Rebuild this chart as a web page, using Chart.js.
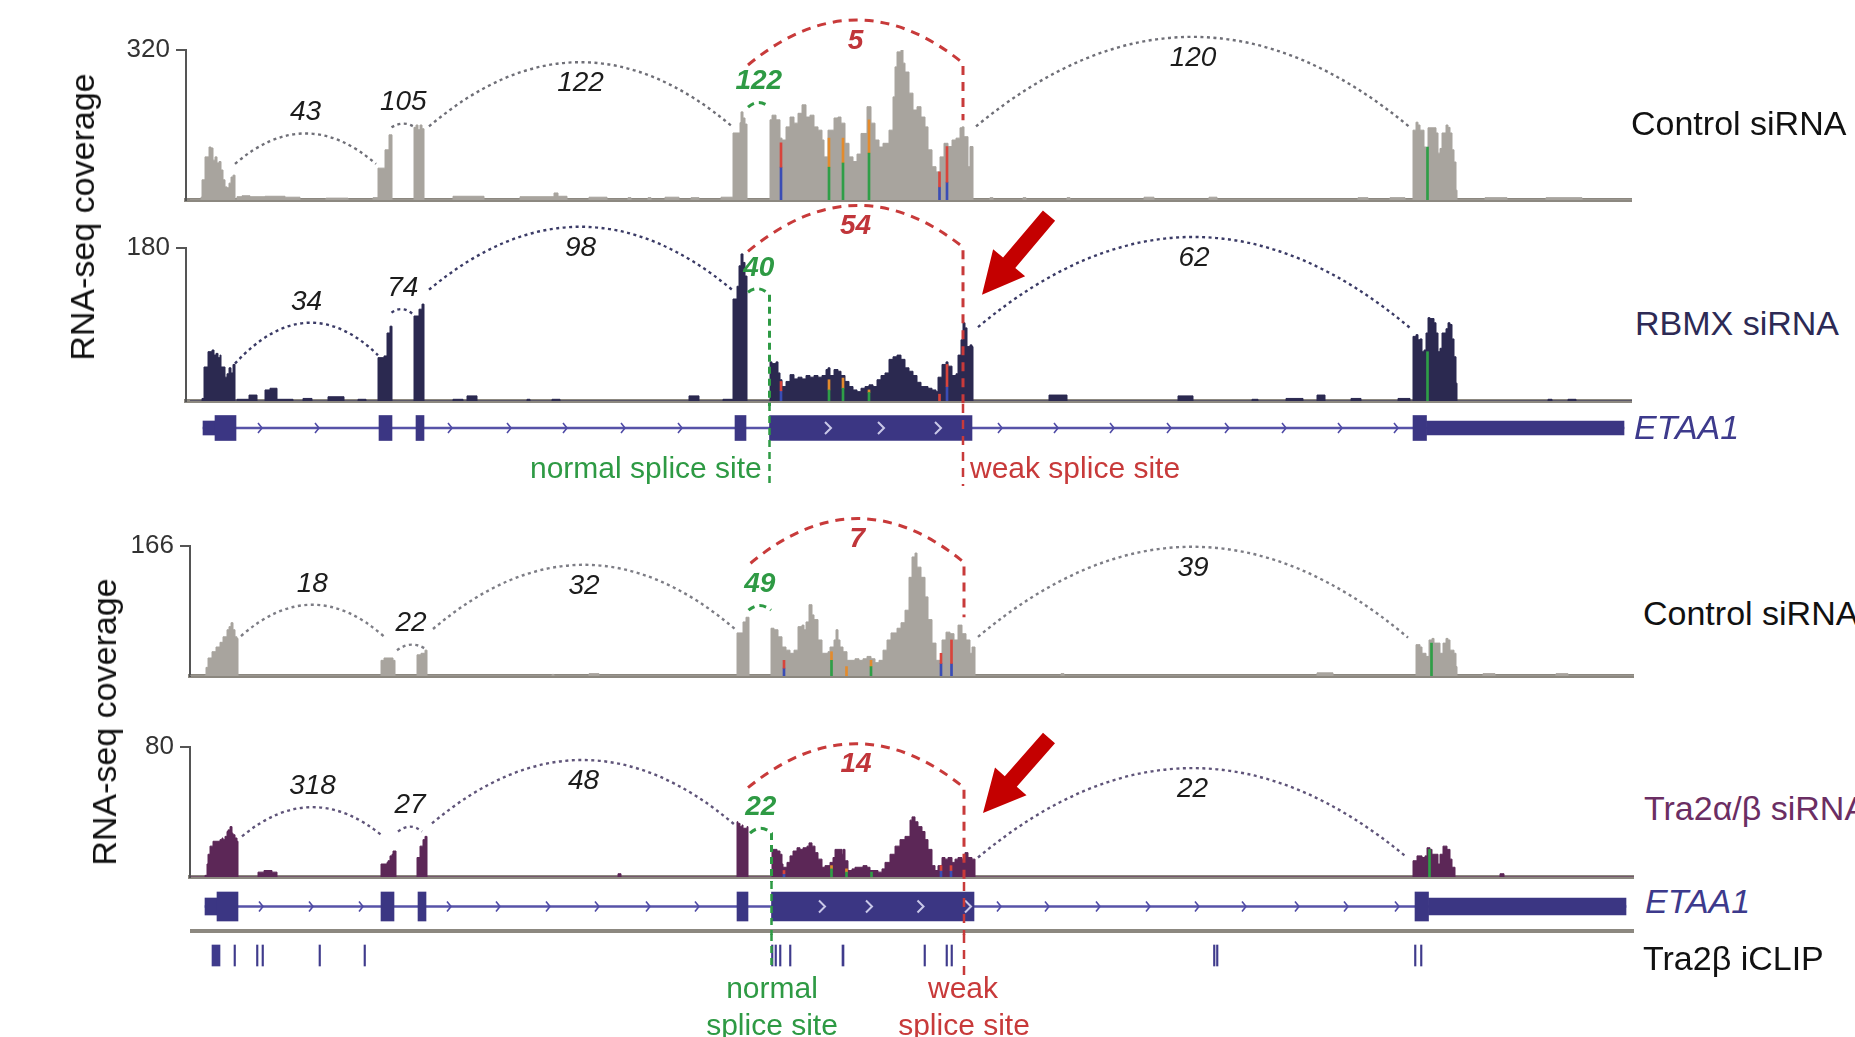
<!DOCTYPE html>
<html><head><meta charset="utf-8">
<script src="https://cdn.jsdelivr.net/npm/chart.js@4.4.1/dist/chart.umd.min.js"></script>
<style>
html,body{margin:0;padding:0;background:#fff;}
body{width:1855px;height:1037px;overflow:hidden;position:relative;font-family:"Liberation Sans",Arial,Helvetica,sans-serif;}
canvas{position:absolute;}
.t{position:absolute;white-space:nowrap;line-height:1;}
.rot{transform:translate(-50%,-50%) rotate(-90deg);}
.ctr{transform:translateX(-50%);}
</style></head><body>
<script>
// ---------------- DATA (genomic position units along ETAA1 locus) ----------------
const POS_MAX = 1442;
const yMaxTicks = [320, 180, 166, 80];
const trackNames = ['Control siRNA', 'RBMX siRNA', 'Control siRNA', 'Tra2α/β siRNA'];

const covCtrlA = [[0,0],[11,6],[12,43],[15,92],[19,113],[21,111],[23,85],[25,92],[27,79],[29,82],[31,64],[33,43],[35,28],[37,26],[39,36],[41,49],[43,53],[45,0],
[47,7],[52,9],[60,7],[75,8],[95,6],[110,0],[136,4],[158,0],
[183,5],[188,68],[195,107],[199,139],[202,0],
[224,155],[226,160],[228,150],[230,160],[232,152],[234,0],
[263,8],[294,0],[330,7],[364,15],[368,8],[377,0],[399,6],[417,0],
[438,5],[441,0],[458,5],[461,0],[475,6],[489,0],[501,5],[509,0],[531,6],
[543,143],[550,165],[551,188],[553,175],[555,162],[557,0],
[580,171],[582,181],[586,171],[590,132],[592,128],[596,156],[600,177],[604,164],[608,185],[612,203],[616,177],[620,181],[624,156],[628,149],[632,128],[634,92],[638,149],[644,175],[648,177],[651,164],[655,121],[659,92],[663,82],[667,98],[671,142],[677,199],[681,164],[685,128],[689,113],[693,121],[699,149],[703,220],[705,284],[707,316],[711,320],[713,292],[715,273],[719,228],[723,192],[727,199],[731,177],[735,156],[738,107],[742,71],[746,60],[750,92],[754,121],[758,114],[762,128],[766,132],[770,154],[772,156],[774,135],[778,71],[780,114],[783,0],
[800,5],[803,0],[833,5],[836,0],[877,5],[880,0],[954,6],[964,0],[1019,6],[1027,0],[1168,5],[1178,0],[1200,5],[1215,0],
[1223,149],[1226,166],[1228,160],[1230,149],[1234,113],[1236,107],[1238,154],[1244,154],[1246,143],[1248,100],[1250,110],[1252,143],[1256,160],[1258,155],[1260,143],[1262,107],[1264,81],[1266,21],[1267,0],
[1295,5],[1317,0],[1356,5],[1392,0],[1442,0]];

const covRbmx = [[0,0],[12,3],[14,40],[18,58],[22,60],[24,54],[26,56],[28,51],[30,54],[31,40],[33,40],[35,28],[37,32],[39,39],[41,33],[43,43],[45,0],
[47,2],[59,7],[67,0],[75,13],[80,15],[87,2],[103,0],[113,3],[122,0],[138,5],[154,0],[168,2],[176,0],
[188,51],[194,53],[197,80],[200,88],[202,0],
[224,100],[229,108],[232,114],[234,0],
[263,2],[273,0],[277,6],[287,0],[337,2],[340,0],[362,2],[370,0],[499,6],[509,0],[533,2],
[543,120],[547,135],[549,159],[551,173],[553,163],[555,147],[557,0],
[580,46],[582,44],[586,46],[588,33],[590,25],[592,17],[596,23],[600,31],[604,26],[608,28],[612,26],[616,30],[620,28],[624,30],[628,28],[632,30],[636,37],[638,39],[640,30],[644,37],[648,35],[651,30],[655,23],[659,17],[663,13],[667,11],[671,15],[675,17],[679,19],[683,17],[687,25],[691,30],[695,33],[699,49],[703,52],[707,54],[711,49],[715,39],[719,35],[723,30],[727,22],[731,17],[738,15],[742,13],[746,11],[748,28],[752,43],[756,46],[758,41],[762,30],[766,32],[768,54],[771,72],[773,92],[775,86],[777,64],[780,66],[782,64],[783,0],
[859,7],[877,0],[988,6],[1003,0],[1062,2],[1068,0],[1096,3],[1113,0],[1127,7],[1135,0],[1161,3],[1171,0],[1208,3],[1220,0],
[1223,76],[1226,78],[1228,72],[1230,73],[1232,58],[1234,60],[1236,80],[1238,98],[1240,97],[1244,92],[1246,80],[1248,58],[1250,62],[1252,80],[1256,85],[1258,92],[1260,90],[1262,73],[1264,52],[1266,21],[1267,0],
[1358,2],[1362,0],[1378,2],[1386,0],[1442,0]];

const covCtrlB = [[-2,0],[13,1],[14,11],[16,23],[20,31],[24,37],[28,43],[31,50],[35,59],[37,63],[39,68],[41,59],[43,50],[45,48],[46,0],
[189,20],[192,23],[198,23],[201,20],[203,0],
[225,27],[229,29],[233,33],[235,0],
[360,2],[362,0],[397,3],[407,0],
[545,55],[551,69],[554,75],[557,0],
[579,61],[582,59],[586,50],[590,37],[594,33],[598,29],[602,33],[606,63],[610,65],[612,59],[614,69],[617,91],[620,78],[622,72],[626,46],[630,29],[634,29],[636,31],[638,37],[642,46],[644,59],[646,46],[648,37],[651,31],[655,20],[659,20],[663,22],[667,20],[671,22],[675,25],[679,22],[683,17],[687,20],[691,33],[695,46],[699,55],[705,61],[709,68],[713,84],[717,126],[720,152],[723,157],[725,139],[729,126],[733,101],[736,72],[740,42],[744,20],[748,12],[750,46],[754,56],[758,54],[762,46],[766,65],[770,54],[774,46],[778,29],[780,37],[783,0],
[869,3],[872,0],[1125,4],[1141,0],
[1224,40],[1228,37],[1230,29],[1234,25],[1237,46],[1240,48],[1242,42],[1246,42],[1248,29],[1251,42],[1254,48],[1256,46],[1258,33],[1262,29],[1264,12],[1265,0],
[1291,3],[1303,0],[1364,3],[1376,0],[1442,0]];

const covTra2 = [[-2,0],[13,1],[15,8],[16,14],[18,19],[21,22],[28,23],[30,24],[31,23],[33,25],[35,28],[36,29],[38,31],[40,27],[41,26],[43,24],[45,22],[46,0],
[66,3],[72,4],[80,3],[85,0],
[189,8],[195,9],[196,10],[198,13],[200,14],[201,16],[204,0],
[225,12],[228,19],[231,23],[233,25],[235,0],
[426,2],[429,0],
[545,34],[546,33],[548,31],[550,32],[551,30],[555,31],[556,0],
[580,17],[585,16],[588,14],[590,8],[591,6],[595,9],[598,13],[601,16],[605,18],[608,17],[611,18],[615,19],[617,21],[620,19],[623,15],[626,11],[630,6],[633,7],[638,9],[641,12],[643,17],[646,17],[650,14],[651,17],[653,10],[656,4],[660,5],[663,6],[668,6],[671,7],[675,6],[678,4],[681,4],[686,3],[690,5],[693,9],[698,14],[703,19],[708,23],[713,25],[718,35],[720,37],[723,34],[726,31],[730,28],[733,23],[736,17],[740,7],[743,4],[746,7],[750,12],[753,11],[756,12],[760,9],[763,11],[766,12],[770,11],[773,15],[776,12],[780,11],[783,0],
[1221,10],[1225,13],[1230,12],[1233,13],[1235,18],[1238,17],[1240,14],[1246,8],[1248,14],[1251,19],[1255,17],[1258,11],[1260,6],[1263,0],
[1308,2],[1312,0],[1442,0]];

// mismatch allele bars: [position, from, to]
const mmCtrlA = {red:[[591,70,122],[749.5,28,60],[757,38,114]], blue:[[591,0,70],[749.5,0,28],[757,0,38]],
  green:[[639,0,70],[653,0,79],[679,0,100],[1237.5,0,113]], orange:[[639,70,132],[653,79,132],[679,100,171]]};
const mmRbmx = {red:[[591,12,23],[749.5,0,8],[757,17,43]], blue:[[591,0,12],[757,0,17]],
  green:[[639,0,13],[653,0,15],[679,0,10],[1237.5,0,58]], orange:[[639,13,25],[653,15,27],[679,10,13]]};
const mmCtrlB = {red:[[592,10,20],[749,16,29],[759.5,16,46]], blue:[[592,0,10],[749,0,16],[759.5,0,16]],
  green:[[639.5,0,20],[679,0,12],[1239.5,0,42]], orange:[[639.5,20,31],[654.5,0,12],[679,12,20]]};
const mmTra2 = {red:[[592,2,4],[749,4,7],[759,4,7]], blue:[[592,0,2],[749,0,4],[759,0,4]],
  green:[[639.5,0,5],[654.5,0,3],[679.5,0,3],[1237.5,0,17]], orange:[[639.5,5,7],[654.5,3,5]]};

// splice junctions: from, to, coverage at ends, arc apex, read count, kind
const jxCtrlA = [
  {from:45, to:186, y0:77, y1:77, apex:142, n:'43', kind:'plain', lab:'above'},
  {from:201.5, to:225, y0:155, y1:155, apex:163, n:'105', kind:'plain', lab:'above'},
  {from:239, to:542, y0:157, y1:157, apex:294, n:'122', kind:'plain', lab:'below'},
  {from:558, to:579.5, y0:198, y1:198, apex:208, n:'122', kind:'normal', lab:'above'},
  {from:558, to:773, y0:288, y1:292, apex:384, n:'5', kind:'weak', lab:'below', drop:170},
  {from:786, to:1220, y0:157, y1:155, apex:348, n:'120', kind:'plain', lab:'below'}];
const jxRbmx = [
  {from:45, to:188, y0:44, y1:54, apex:92, n:'34', kind:'plain', lab:'above'},
  {from:201.5, to:224, y0:104, y1:101, apex:108, n:'74', kind:'plain', lab:'above'},
  {from:239, to:542, y0:131, y1:131, apex:205, n:'98', kind:'plain', lab:'below'},
  {from:558, to:579.5, y0:128, y1:125, apex:132, n:'40', kind:'normal', lab:'above', drop:'through'},
  {from:558, to:773, y0:176, y1:181, apex:230, n:'54', kind:'weak', lab:'below', drop:'through'},
  {from:788, to:1220, y0:87, y1:86, apex:193, n:'62', kind:'plain', lab:'below'}];
const jxCtrlB = [
  {from:49, to:191.5, y0:51, y1:51, apex:91, n:'18', kind:'plain', lab:'above'},
  {from:205, to:233, y0:33, y1:35, apex:40, n:'22', kind:'plain', lab:'above'},
  {from:241, to:543, y0:60, y1:60, apex:142, n:'32', kind:'plain', lab:'below'},
  {from:556.5, to:579, y0:84, y1:84, apex:90, n:'49', kind:'normal', lab:'above'},
  {from:558.5, to:772, y0:144, y1:145, apex:201, n:'7', kind:'weak', lab:'below', drop:75},
  {from:786, to:1216, y0:50, y1:49, apex:165, n:'39', kind:'plain', lab:'below'}];
const jxTra2 = [
  {from:50, to:191, y0:25, y1:25, apex:43, n:'318', kind:'plain', lab:'above'},
  {from:206, to:230, y0:28, y1:28, apex:31, n:'27', kind:'plain', lab:'above'},
  {from:240, to:543, y0:33, y1:32, apex:72, n:'48', kind:'plain', lab:'below'},
  {from:558, to:579.5, y0:27, y1:27, apex:30, n:'22', kind:'normal', lab:'above', drop:'through'},
  {from:556, to:772, y0:55, y1:55, apex:82, n:'14', kind:'weak', lab:'below', drop:'through'},
  {from:786, to:1215, y0:12, y1:12, apex:67, n:'22', kind:'plain', lab:'below'}];

// red arrows pointing at the weak splice site: [position, coverage]
const arrowRbmx = {tail:[859,218], tip:[792,125]};
const arrowTra2 = {tail:[857,85.5], tip:[791,39.4]};

// ETAA1 gene model
const geneExons = [[25,46],[189,202],[226,234],[545,556],[579.5,782],[1223,1236.5]];
const geneUTR = [[13,25],[1236.5,1434]];
const geneSpan = [13,1434];
const intronArrowsA = [70,127,260,319,375,433,490,810,866,922,979,1037,1094,1150,1206];
const intronArrowsB = [69,119,169,257,306,356,405,456,505,807,855,906,956,1005,1052,1105,1154,1205];
const exonArrowsA = [638,691,748];
const exonArrowsB = [630,677,728.5,776];
const spliceSitesA = {normal:579.5, weak:773};
const spliceSitesB = {normal:579.5, weak:772};

// Tra2beta iCLIP tags
const iclipTags = [[20,28],[42,43.5],[64.5,66],[70,71.5],[127,128.5],[172,173.5],[579.5,581],[583,584.5],[587.5,589],[597.5,599],[650,652],[732,733.5],[754,755.5],[759,760.5],[1021.5,1023],[1024.5,1026],[1222.5,1224],[1228.5,1230]];

// ---------------- RENDERING ----------------
const FONT = '"Liberation Sans", Arial, Helvetica, sans-serif';
Chart.defaults.font.family = FONT;
const GREEN = '#2e9a44', RED = '#c83a3a', GENE = '#3b3683';

function mkCanvas(left, top, w, h) {
  const cv = document.createElement('canvas');
  cv.width = w; cv.height = h;
  cv.style.left = left + 'px'; cv.style.top = top + 'px';
  cv.style.width = w + 'px'; cv.style.height = h + 'px';
  document.body.appendChild(cv);
  return cv;
}

function sashimi(cfg) {
  return {
    id: 'sashimi',
    afterDatasetsDraw(chart) {
      const ctx = chart.ctx, xs = chart.scales.x, ys = chart.scales.y;
      ctx.save();
      for (const j of cfg.junctions) {
        const x0 = xs.getPixelForValue(j.from), x2 = xs.getPixelForValue(j.to);
        const y0 = ys.getPixelForValue(j.y0), y2 = ys.getPixelForValue(j.y1);
        const ya = ys.getPixelForValue(j.apex);
        const cx = (x0 + x2) / 2, cy = 2 * ya - (y0 + y2) / 2;
        let col = cfg.arcColor, lw = 2.4, dash = [3, 3.5], txt = '#1c1c1c', font = 'italic 28px ' + FONT;
        if (j.kind === 'weak') { col = RED; lw = 3; dash = [9, 7]; txt = '#c0353a'; font = 'italic bold 28px ' + FONT; }
        if (j.kind === 'normal') { col = GREEN; lw = 3; dash = [7, 5]; txt = GREEN; font = 'italic bold 28px ' + FONT; }
        ctx.strokeStyle = col; ctx.lineWidth = lw; ctx.setLineDash(dash);
        ctx.beginPath(); ctx.moveTo(x0, y0); ctx.quadraticCurveTo(cx, cy, x2, y2);
        if (j.drop !== undefined) {
          const yd = j.drop === 'through' ? chart.height : ys.getPixelForValue(j.drop);
          ctx.lineTo(x2, yd);
        }
        ctx.stroke();
        ctx.setLineDash([]);
        ctx.fillStyle = txt; ctx.font = font; ctx.textAlign = 'center'; ctx.textBaseline = 'middle';
        ctx.fillText(j.n, cx, j.lab === 'above' ? ya - 21 : ya + 21);
      }
      if (cfg.arrow) {
        const tx = xs.getPixelForValue(cfg.arrow.tail[0]), ty = ys.getPixelForValue(cfg.arrow.tail[1]);
        const px = xs.getPixelForValue(cfg.arrow.tip[0]), py = ys.getPixelForValue(cfg.arrow.tip[1]);
        const L = Math.hypot(tx - px, ty - py), ux = (tx - px) / L, uy = (ty - py) / L, nx = -uy, ny = ux;
        const hb = 42, sw = 8, hw = 21;
        const bx = px + ux * hb, by = py + uy * hb;
        ctx.fillStyle = '#c40000';
        ctx.beginPath();
        ctx.moveTo(tx + nx * sw, ty + ny * sw);
        ctx.lineTo(bx + nx * sw, by + ny * sw);
        ctx.lineTo(bx + nx * hw, by + ny * hw);
        ctx.lineTo(px, py);
        ctx.lineTo(bx - nx * hw, by - ny * hw);
        ctx.lineTo(bx - nx * sw, by - ny * sw);
        ctx.lineTo(tx - nx * sw, ty - ny * sw);
        ctx.closePath(); ctx.fill();
      }
      ctx.restore();
    }
  };
}

function makeCoverage(cfg) {
  const cv = mkCanvas(cfg.left, cfg.top, cfg.w, cfg.h);
  const mmColors = {red:'#d8443c', blue:'#3a4db5', green:'#2f9e47', orange:'#e38b2d'};
  const datasets = [];
  for (const k of ['red', 'blue', 'green', 'orange']) {
    if (!cfg.mm[k]) continue;
    datasets.push({type:'bar', order:0, grouped:false, barThickness:2, backgroundColor:mmColors[k], borderWidth:0,
      data: cfg.mm[k].map(([x, lo, hi]) => ({x, y:[lo, hi]}))});
  }
  datasets.push({type:'line', order:1, data: cfg.cov.map(([x, y]) => ({x, y})), stepped:true, fill:'origin',
    backgroundColor:cfg.fill, borderColor:cfg.fill, borderWidth:1, pointRadius:0, pointHoverRadius:0});
  new Chart(cv, {
    type:'line',
    data:{datasets},
    options:{
      responsive:false, animation:false, devicePixelRatio:1, events:[],
      layout:{autoPadding:false, padding:{top:cfg.padTop, left:0, right:0, bottom:0}},
      plugins:{legend:{display:false}, tooltip:{enabled:false}},
      scales:{
        x:{type:'linear', min:cfg.xMin, max:POS_MAX, offset:false, z:1,
           grid:{display:false}, ticks:{display:false},
           border:{display:true, color:'#8c8880', width:4},
           afterFit(s){ s.height = 5; s.paddingLeft = 0; s.paddingRight = 0; }},
        y:{type:'linear', min:0, max:cfg.yMax,
           afterBuildTicks(s){ s.ticks = [{value:cfg.yMax}]; },
           grid:{display:true, drawOnChartArea:false, drawTicks:true, tickLength:10, color:'#555', lineWidth:2},
           border:{display:true, color:'#555', width:2},
           ticks:{font:{size:26}, color:'#333', padding:6, callback:(v) => String(v)},
           afterFit(s){ s.width = 86; s.paddingTop = 0; s.paddingBottom = 0; }}
      }
    },
    plugins:[sashimi(cfg)]
  });
}

function siteLines(ctx, xs, sites, yTop, yGreen, yRed) {
  ctx.save();
  ctx.lineWidth = 2.5;
  ctx.strokeStyle = GREEN; ctx.setLineDash([7, 5]);
  let x = xs.getPixelForValue(sites.normal);
  ctx.beginPath(); ctx.moveTo(x, yTop); ctx.lineTo(x, yGreen); ctx.stroke();
  ctx.strokeStyle = RED; ctx.setLineDash([9, 7]);
  x = xs.getPixelForValue(sites.weak);
  ctx.beginPath(); ctx.moveTo(x, yTop); ctx.lineTo(x, yRed); ctx.stroke();
  ctx.restore();
}

function makeGene(cfg) {
  const cv = mkCanvas(cfg.left, cfg.top, cfg.w, cfg.h);
  const row = 'ETAA1';
  const bars = (arr) => arr.map(([a, b]) => ({x:[a, b], y:row}));
  new Chart(cv, {
    type:'bar',
    data:{labels:[row], datasets:[
      {data:bars(geneExons), backgroundColor:GENE, barThickness:cfg.exonH, grouped:false, borderWidth:0, order:0},
      {data:bars(geneUTR), backgroundColor:GENE, barThickness:cfg.utrH, grouped:false, borderWidth:0, order:1},
      {data:bars([geneSpan]), backgroundColor:'#5753a8', barThickness:2, grouped:false, borderWidth:0, order:2}
    ]},
    options:{
      indexAxis:'y', responsive:false, animation:false, devicePixelRatio:1, events:[],
      layout:{autoPadding:false, padding:{top:cfg.padTop || 0, bottom:cfg.padBottom, left:0, right:0}},
      plugins:{legend:{display:false}, tooltip:{enabled:false}},
      scales:{
        x:{type:'linear', min:cfg.xMin, max:POS_MAX, display:cfg.bottomLine, z:1,
           grid:{display:false}, ticks:{display:false},
           border:{display:true, color:'#8c8880', width:4},
           afterFit(s){ s.height = 4; s.paddingLeft = 0; s.paddingRight = 0; }},
        y:{type:'category', labels:[row], display:false}
      }
    },
    plugins:[{
      id:'geneDecor',
      afterDatasetsDraw(chart) {
        const ctx = chart.ctx, xs = chart.scales.x, yc = chart.scales.y.getPixelForValue(0);
        ctx.save();
        ctx.lineWidth = 1.6; ctx.strokeStyle = '#4f4ba6';
        for (const p of cfg.intronArrows) {
          const x = xs.getPixelForValue(p);
          ctx.beginPath(); ctx.moveTo(x - 2, yc - 5); ctx.lineTo(x + 2, yc); ctx.lineTo(x - 2, yc + 5); ctx.stroke();
        }
        ctx.lineWidth = 2; ctx.strokeStyle = '#c9c8e8';
        for (const p of cfg.exonArrows) {
          const x = xs.getPixelForValue(p);
          ctx.beginPath(); ctx.moveTo(x - 3, yc - 6); ctx.lineTo(x + 3, yc); ctx.lineTo(x - 3, yc + 6); ctx.stroke();
        }
        ctx.restore();
        siteLines(ctx, xs, cfg.sites, 0, cfg.lineEnd, cfg.lineEnd);
      }
    }]
  });
}

function makeIclip(cfg) {
  const cv = mkCanvas(cfg.left, cfg.top, cfg.w, cfg.h);
  const row = 'iCLIP';
  new Chart(cv, {
    type:'bar',
    data:{labels:[row], datasets:[
      {data:iclipTags.map(([a, b]) => ({x:[a, b], y:row})), backgroundColor:'#3f3b8c', barThickness:21, grouped:false, borderWidth:0}
    ]},
    options:{
      indexAxis:'y', responsive:false, animation:false, devicePixelRatio:1, events:[],
      layout:{autoPadding:false, padding:{top:0, bottom:8, left:0, right:0}},
      plugins:{legend:{display:false}, tooltip:{enabled:false}},
      scales:{
        x:{type:'linear', min:cfg.xMin, max:POS_MAX, display:false},
        y:{type:'category', labels:[row], display:false}
      }
    },
    plugins:[{
      id:'iclipSites',
      afterDatasetsDraw(chart) {
        const a = chart.chartArea;
        siteLines(chart.ctx, chart.scales.x, cfg.sites, 0, a.bottom - 10, a.bottom + 1);
      }
    }]
  });
}

// top half
makeCoverage({left:100, top:0, w:1532, h:205, padTop:50, xMin:-4, yMax:yMaxTicks[0], cov:covCtrlA, mm:mmCtrlA,
  junctions:jxCtrlA, fill:'#a8a49e', arcColor:'#6f6f77'});
makeCoverage({left:100, top:200, w:1532, h:206, padTop:48, xMin:-4, yMax:yMaxTicks[1], cov:covRbmx, mm:mmRbmx,
  junctions:jxRbmx, fill:'#2b2950', arcColor:'#3b3b66', arrow:arrowRbmx});
makeGene({left:186, top:404, w:1446, h:86, padTop:6, padBottom:40, xMin:-4, exonH:25, utrH:14, bottomLine:false,
  intronArrows:intronArrowsA, exonArrows:exonArrowsA, sites:spliceSitesA, lineEnd:82});
// bottom half
makeCoverage({left:104, top:500, w:1530, h:181, padTop:46, xMin:-2, yMax:yMaxTicks[2], cov:covCtrlB, mm:mmCtrlB,
  junctions:jxCtrlB, fill:'#a8a49e', arcColor:'#7d7d85'});
makeCoverage({left:104, top:700, w:1530, h:182, padTop:47, xMin:-2, yMax:yMaxTicks[3], cov:covTra2, mm:mmTra2,
  junctions:jxTra2, fill:'#5c2757', arcColor:'#5f5479', arrow:arrowTra2});
makeGene({left:190, top:882, w:1444, h:53, padBottom:0, xMin:-2, exonH:29, utrH:17, bottomLine:true,
  intronArrows:intronArrowsB, exonArrows:exonArrowsB, sites:spliceSitesB, lineEnd:53});
makeIclip({left:190, top:934, w:1444, h:51, xMin:-2, sites:spliceSitesB});

// ---------------- TEXT ----------------
function label(text, x, cy, size, color, extra, cls) {
  const d = document.createElement('div');
  d.className = 't' + (cls ? ' ' + cls : '');
  d.textContent = text;
  d.style.left = x + 'px';
  d.style.top = (cls === 'rot' ? cy : cy - size / 2) + 'px';
  d.style.fontSize = size + 'px';
  d.style.color = color;
  if (extra) Object.assign(d.style, extra);
  document.body.appendChild(d);
}
label('RNA-seq coverage', 82, 217, 34, '#111', null, 'rot');
label('RNA-seq coverage', 104, 722, 34, '#111', null, 'rot');
label(trackNames[0], 1631, 123, 34, '#111');
label(trackNames[1], 1635, 323, 34, '#2d2a55');
label('ETAA1', 1634, 427, 34, '#3d3a8c', {fontStyle:'italic'});
label(trackNames[2], 1643, 613, 34, '#111');
label(trackNames[3], 1644, 808, 34, '#6b2e63');
label('ETAA1', 1645, 901, 34, '#3d3a8c', {fontStyle:'italic'});
label('Tra2β iCLIP', 1643, 958, 34, '#111');
label('normal splice site', 530, 468, 30, GREEN);
label('weak splice site', 970, 468, 30, RED);
label('normal', 772, 988, 30, GREEN, null, 'ctr');
label('splice site', 772, 1025, 30, GREEN, null, 'ctr');
label('weak', 963, 988, 30, RED, null, 'ctr');
label('splice site', 964, 1025, 30, RED, null, 'ctr');
</script>
</body></html>
